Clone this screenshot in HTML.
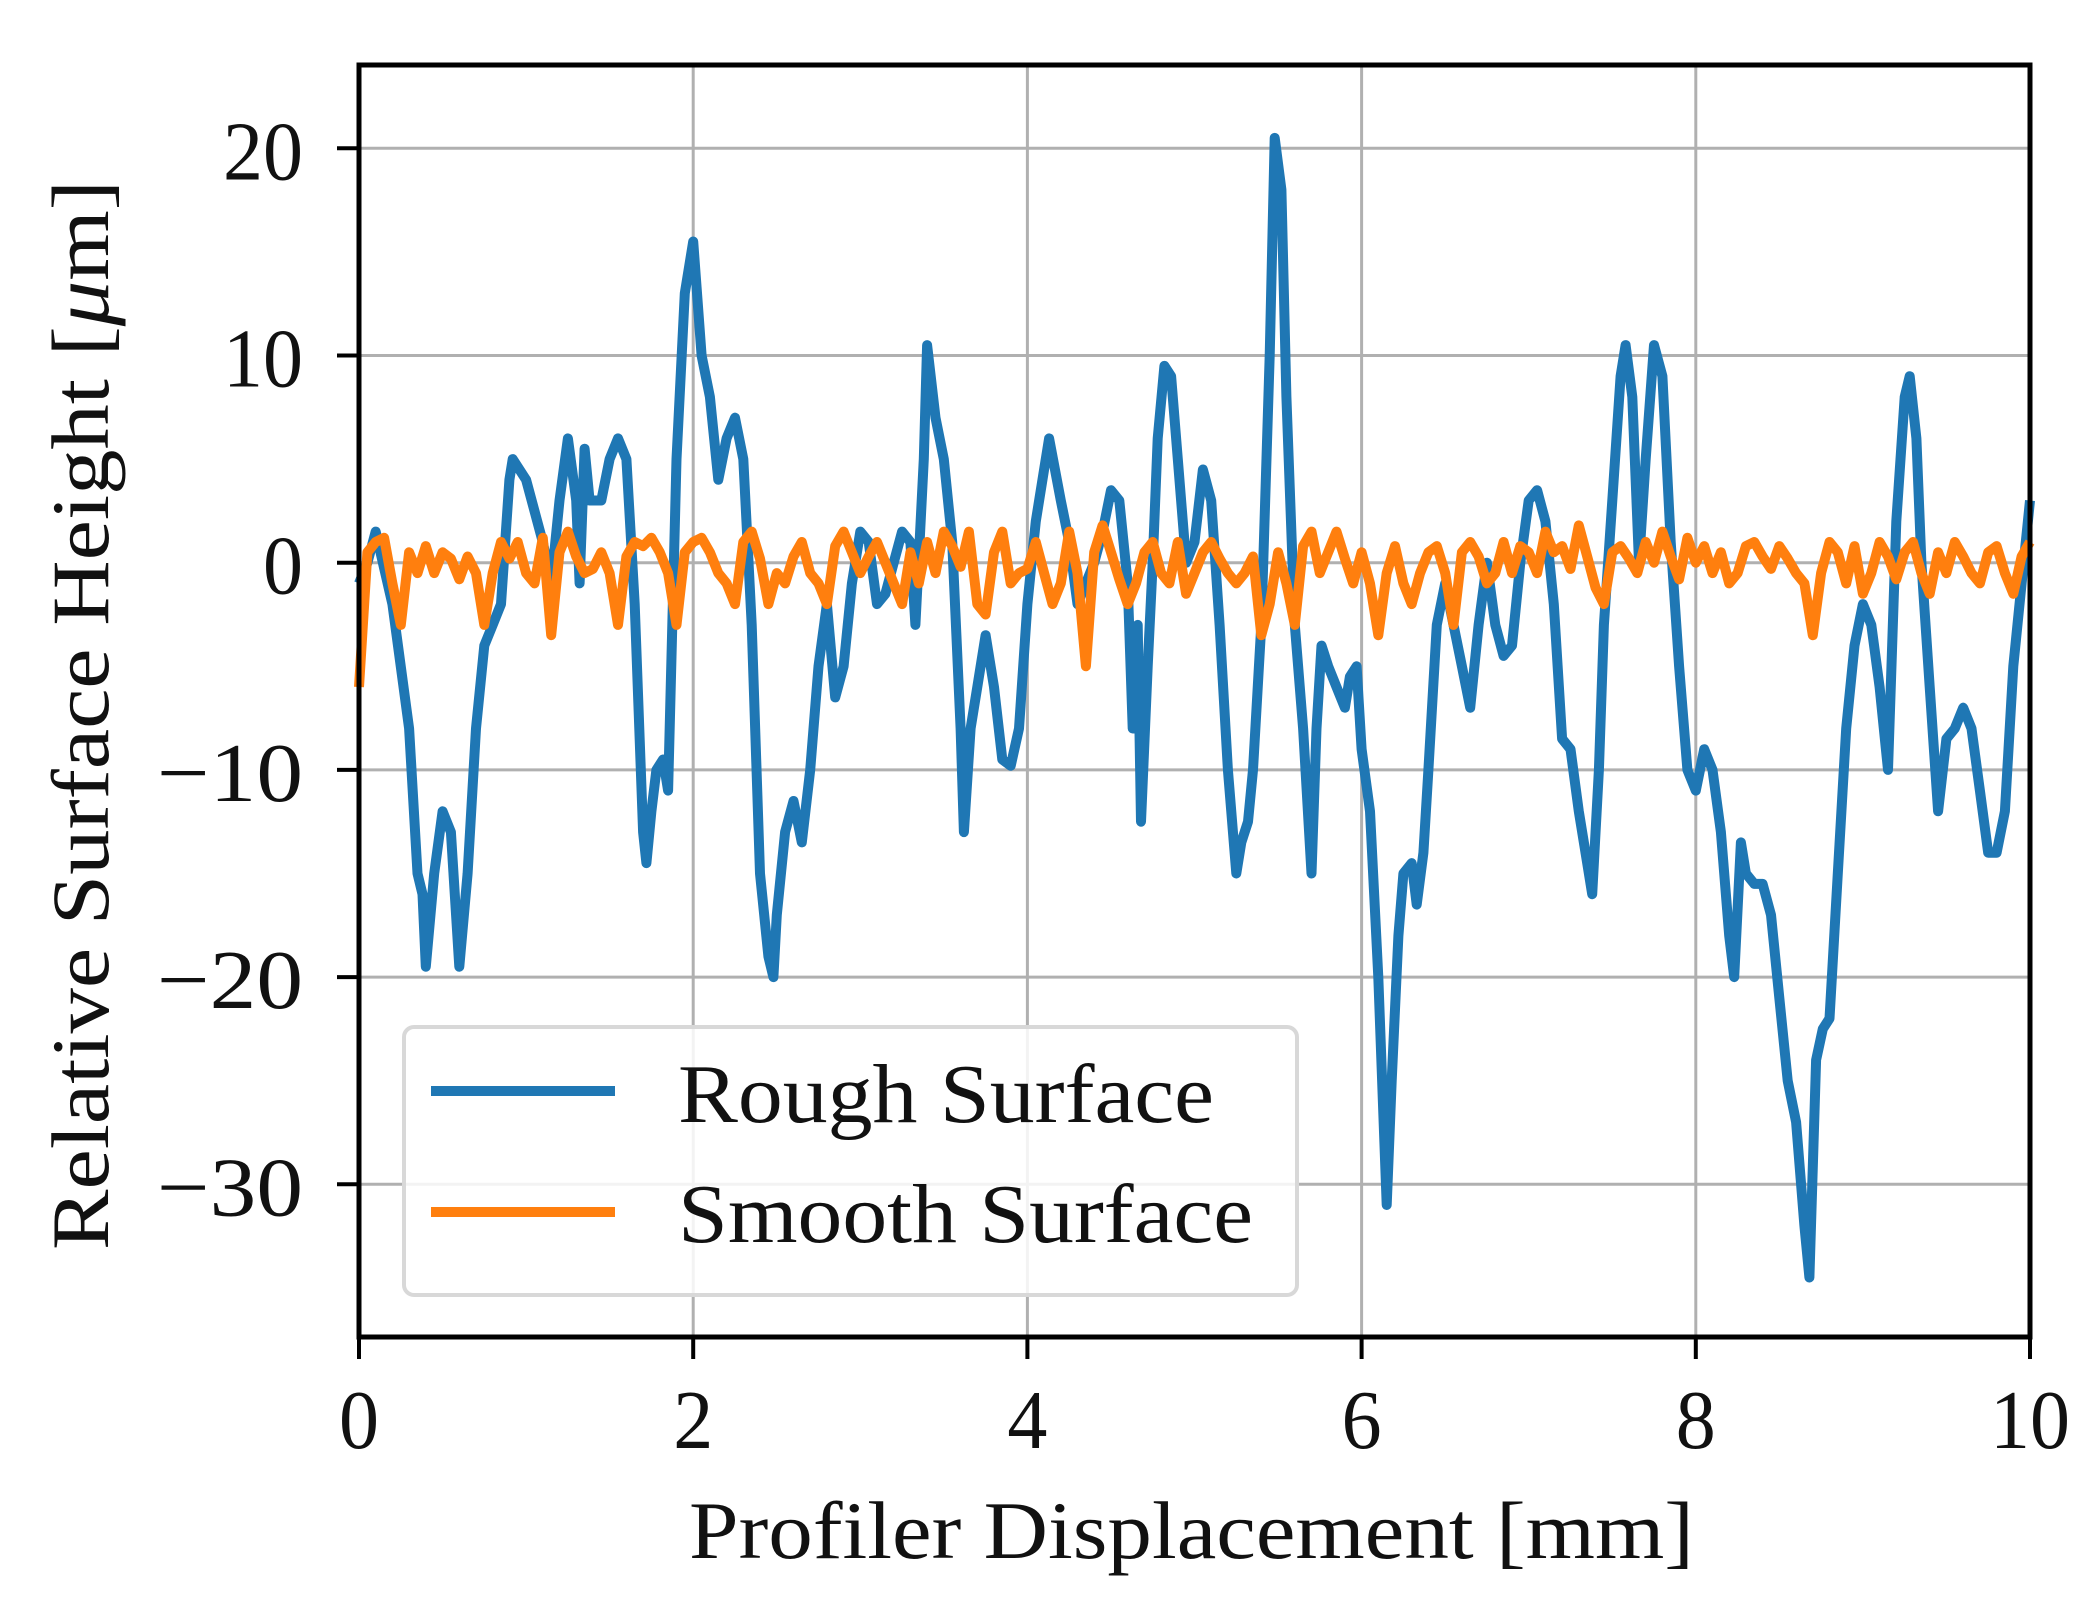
<!DOCTYPE html>
<html><head><meta charset="utf-8"><style>
html,body{margin:0;padding:0;background:#fff;}
svg text{font-family:"Liberation Serif",serif;fill:#111;}
</style></head><body>
<svg id="chart" width="2099" height="1619" xmlns="http://www.w3.org/2000/svg">
<g id="grid"></g>
<g id="series"></g>
<rect x="359" y="65" width="1671" height="1272" fill="none" stroke="#000" stroke-width="5"/>
<g id="ticks"></g>
<text x="689" y="1558" font-size="82" textLength="1005" lengthAdjust="spacingAndGlyphs">Profiler Displacement [mm]</text>
<text transform="translate(108,1250) rotate(-90)" font-size="82" textLength="1070" lengthAdjust="spacingAndGlyphs">Relative Surface Height [<tspan font-style="italic">μ</tspan>m]</text>
<g>
<rect x="404" y="1027" width="893" height="268" rx="10" fill="#fff" fill-opacity="0.85" stroke="#d8d8d8" stroke-width="4"/>
<line x1="431" y1="1091" x2="615" y2="1091" stroke="#1f77b4" stroke-width="10"/>
<text x="678" y="1122" font-size="84" textLength="536" lengthAdjust="spacingAndGlyphs">Rough Surface</text>
<line x1="431" y1="1212" x2="615" y2="1212" stroke="#ff7f0e" stroke-width="10"/>
<text x="678" y="1242" font-size="84" textLength="575" lengthAdjust="spacingAndGlyphs">Smooth Surface</text>
</g>
</svg>
<script>
const roughX=[0,0.05,0.1,0.2,0.3,0.35,0.38,0.4,0.45,0.5,0.55,0.6,0.65,0.7,0.75,0.8,0.85,0.9,0.92,1.0,1.1,1.15,1.2,1.25,1.3,1.32,1.35,1.38,1.45,1.5,1.55,1.6,1.65,1.7,1.72,1.75,1.78,1.82,1.85,1.9,1.95,2.0,2.05,2.1,2.15,2.2,2.25,2.3,2.35,2.4,2.45,2.48,2.5,2.55,2.6,2.65,2.7,2.75,2.8,2.85,2.9,2.95,3.0,3.05,3.1,3.15,3.2,3.25,3.3,3.33,3.38,3.4,3.45,3.5,3.55,3.6,3.62,3.66,3.7,3.75,3.8,3.85,3.9,3.95,4.0,4.05,4.1,4.13,4.2,4.25,4.3,4.35,4.4,4.45,4.5,4.55,4.6,4.63,4.66,4.68,4.72,4.75,4.78,4.82,4.86,4.9,4.95,5.0,5.05,5.1,5.15,5.2,5.25,5.28,5.32,5.35,5.4,5.45,5.48,5.52,5.55,5.6,5.65,5.7,5.73,5.76,5.8,5.85,5.9,5.93,5.97,6.0,6.05,6.1,6.15,6.18,6.22,6.25,6.3,6.33,6.37,6.4,6.45,6.5,6.55,6.6,6.65,6.7,6.75,6.8,6.85,6.9,6.95,7.0,7.05,7.1,7.15,7.2,7.25,7.3,7.35,7.38,7.42,7.45,7.5,7.55,7.58,7.62,7.66,7.7,7.75,7.8,7.85,7.9,7.95,8.0,8.05,8.1,8.15,8.2,8.23,8.27,8.3,8.35,8.4,8.45,8.5,8.55,8.6,8.65,8.68,8.72,8.76,8.8,8.85,8.9,8.95,9.0,9.05,9.1,9.15,9.2,9.25,9.28,9.32,9.35,9.4,9.45,9.5,9.55,9.6,9.65,9.7,9.75,9.8,9.85,9.9,9.95,10];
const roughY=[-1,0,1.5,-2,-8,-15,-16,-19.5,-15,-12,-13,-19.5,-15,-8,-4,-3,-2,4,5,4,1,-1,3,6,3,-1,5.5,3,3,5,6,5,-2,-13,-14.5,-12,-10,-9.5,-11,5,13,15.5,10,8,4,6,7,5,-3,-15,-19,-20,-17,-13,-11.5,-13.5,-10,-5,-2,-6.5,-5,-1,1.5,1,-2,-1.5,0,1.5,1,-3,5,10.5,7,5,1,-8,-13,-8,-6,-3.5,-6,-9.5,-9.8,-8,-2,2,4.5,6,3,1,-2,-1,0,1.5,3.5,3,-1,-8,-3,-12.5,-5,0,6,9.5,9,5,0,1,4.5,3,-3,-10,-15,-13.5,-12.5,-10,-3,10,20.5,18,8,-3,-8,-15,-8,-4,-5,-6,-7,-5.5,-5,-9,-12,-20,-31,-25,-18,-15,-14.5,-16.5,-14,-10,-3,-1,-3,-5,-7,-3,0,-3,-4.5,-4,0,3,3.5,2,-2,-8.5,-9,-12,-14.5,-16,-10,-3,3,9,10.5,8,0,5,10.5,9,1,-5,-10,-11,-9,-10,-13,-18,-20,-13.5,-15,-15.5,-15.5,-17,-21,-25,-27,-32,-34.5,-24,-22.5,-22,-15,-8,-4,-2,-3,-6,-10,2,8,9,6,0,-6,-12,-8.5,-8,-7,-8,-11,-14,-14,-12,-5,-1,3];
const smoothY=[-6,0.5,1,1.2,-1,-3,0.5,-0.5,0.8,-0.5,0.5,0.2,-0.8,0.3,-0.5,-3,-0.5,1,0.2,1,-0.5,-1,1.2,-3.5,0.5,1.5,0.3,-0.5,-0.3,0.5,-0.5,-3,0.3,1,0.8,1.2,0.5,-0.5,-3,0.5,1,1.2,0.5,-0.5,-1,-2,1,1.5,0.2,-2,-0.5,-1,0.3,1,-0.5,-1,-2,0.8,1.5,0.5,-0.5,0.3,1,0,-1,-2,0.5,-1,1,-0.5,1.5,0.8,-0.2,1.5,-2,-2.5,0.5,1.5,-1,-0.5,-0.3,1,-0.5,-2,-1,1.5,-0.5,-5,0.5,1.8,0.5,-0.8,-2,-1,0.5,1,-0.5,-1,1,-1.5,-0.5,0.5,1,0.2,-0.5,-1,-0.5,0.3,-3.5,-2,0.5,-1,-3,0.8,1.5,-0.5,0.5,1.5,0.2,-1,0.5,-1,-3.5,-0.5,0.8,-1,-2,-0.5,0.5,0.8,-0.5,-3,0.5,1,0.3,-1,-0.5,1,-0.5,0.8,0.5,-0.5,1.5,0.5,0.8,-0.3,1.8,0.3,-1.2,-2,0.5,0.8,0.2,-0.5,1,0,1.5,0.3,-0.8,1.2,0,0.8,-0.5,0.5,-1,-0.5,0.8,1,0.3,-0.3,0.8,0.2,-0.5,-1,-3.5,-0.5,1,0.5,-1,0.8,-1.5,-0.5,1,0.3,-0.8,0.5,1,-0.5,-1.5,0.5,-0.5,1,0.3,-0.5,-1,0.5,0.8,-0.5,-1.5,0.3,1];
const xTicks=[0,2,4,6,8,10];
const yTicks=[-30,-20,-10,0,10,20];
const L=359,R=2030,T=65,B=1337;
const sx=v=>L+(v-0)/(10-0)*(R-L);
const sy=v=>562.7-(v)*(562.7-148.3)/20;
const NS="http://www.w3.org/2000/svg";
const grid=document.getElementById('grid'),ticks=document.getElementById('ticks'),series=document.getElementById('series');
function mk(tag,attrs,parent){const e=document.createElementNS(NS,tag);for(const k in attrs)e.setAttribute(k,attrs[k]);parent.appendChild(e);return e;}
function labW(t){return String(Math.abs(t)).length*40+(t<0?66:0);}
xTicks.forEach(t=>{
 const g=mk('line',{x1:sx(t),x2:sx(t),y1:T,y2:B,stroke:'#b0b0b0','stroke-width':3},grid);
 
 
 const tk=mk('line',{x1:sx(t),x2:sx(t),y1:B,y2:B+22,stroke:'#000','stroke-width':4},ticks);
 
 
 const w=labW(t);
 const tx=mk('text',{x:sx(t)-w/2,y:1448,'font-size':84,textLength:w,lengthAdjust:'spacingAndGlyphs'},ticks);
 tx.textContent=String(t);
 
 
});
yTicks.forEach(t=>{
 const g=mk('line',{x1:L,x2:R,y1:sy(t),y2:sy(t),stroke:'#b0b0b0','stroke-width':3},grid);
 
 
 const tk=mk('line',{x1:L-22,x2:L,y1:sy(t),y2:sy(t),stroke:'#000','stroke-width':4},ticks);
 
 
 const w=labW(t);
 const tx=mk('text',{x:303-w,y:sy(t)+31,'font-size':84,textLength:w,lengthAdjust:'spacingAndGlyphs'},ticks);
 tx.textContent=(t<0?'\u2212':'')+Math.abs(t);
 
 
});
const rp=roughX.map((x,i)=>sx(x).toFixed(1)+','+sy(roughY[i]).toFixed(1)).join(' ');
const r=mk('polyline',{points:rp,fill:'none',stroke:'#1f77b4','stroke-width':10,'stroke-linejoin':'round'},series);


const sp=smoothY.map((y,i)=>sx(i*10/(smoothY.length-1)).toFixed(1)+','+sy(y).toFixed(1)).join(' ');
const s=mk('polyline',{points:sp,fill:'none',stroke:'#ff7f0e','stroke-width':10,'stroke-linejoin':'round'},series);


</script>
</body></html>
